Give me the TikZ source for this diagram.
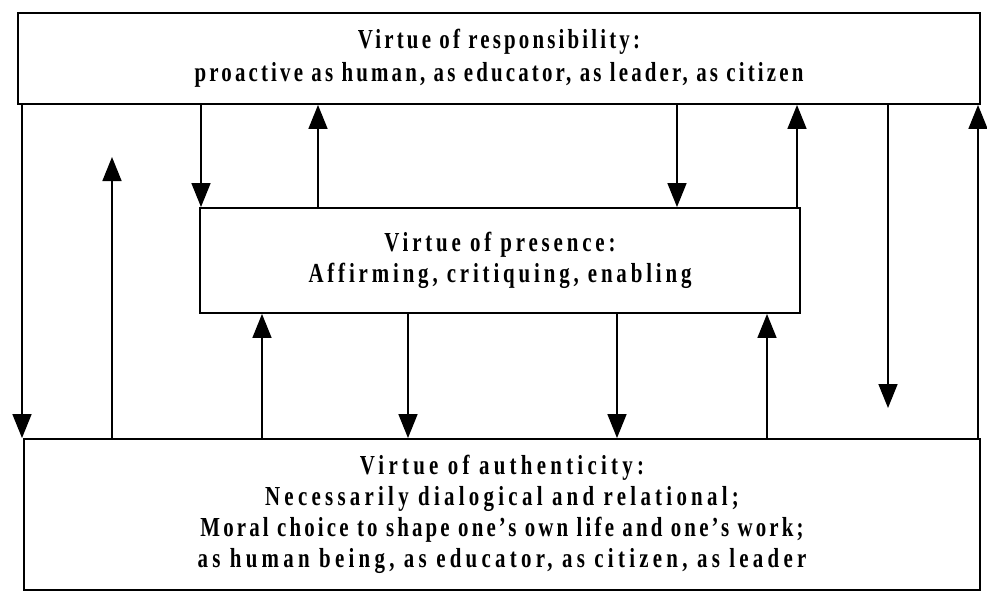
\documentclass[tikz,border=0pt]{standalone}
\usepackage{fontspec}
\setmainfont{Liberation Serif}[FakeStretch=0.76,LetterSpace=11.5]
\usetikzlibrary{arrows.meta}
\begin{document}
\begin{tikzpicture}[x=1pt,y=-1pt,
  boxstyle/.style={draw, line width=1.9pt, rectangle, inner sep=0pt, align=center,
    font=\bfseries\fontsize{27.5}{33}\selectfont},
  arr/.style={line width=1.6pt, -{Triangle[width=19pt,length=24pt]}}]
\useasboundingbox (0,0) rectangle (987,592);
\fill[white] (0,0) rectangle (987,592);
% boxes
\node[boxstyle, minimum width=962pt, minimum height=91pt] (top) at (499,58.5)
  {Virtue of responsibility:\\proactive as human, as educator, as leader, as citizen};
\node[boxstyle, minimum width=600pt, minimum height=105pt,
  font=\bfseries\fontsize{27.5}{31}\selectfont\addfontfeatures{LetterSpace=14}] (mid) at (500,260.5)
  {Virtue of presence:\\Affirming, critiquing, enabling};
\node[boxstyle, minimum width=956pt, minimum height=151pt,
  font=\bfseries\fontsize{27.5}{31}\selectfont\addfontfeatures{LetterSpace=15.5}] (bot) at (502,514.5)
  {Virtue of authenticity:\\Necessarily dialogical and relational;\\{\addfontfeatures{LetterSpace=11.5}Moral choice to shape one's own life and one's work;}\\as human being, as educator, as citizen, as leader};
% x positions of connectors
\coordinate (xa) at (22,0);
\coordinate (xb) at (112,0);
\coordinate (xc) at (201,0);
\coordinate (xd) at (318,0);
\coordinate (xe) at (677,0);
\coordinate (xf) at (797,0);
\coordinate (xg) at (888,0);
\coordinate (xh) at (978,0);
\coordinate (xi) at (262,0);
\coordinate (xj) at (408,0);
\coordinate (xk) at (617,0);
\coordinate (xl) at (767,0);
% free ends
\coordinate (endb) at (112,157);
\coordinate (endg) at (888,408);
% connectors between top and bottom
\draw[arr] (top.south -| xa) -- (bot.north -| xa);
\draw[arr] (bot.north -| xb) -- (endb);
\draw[arr] (top.south -| xg) -- (endg);
\draw[arr] (bot.north -| xh) -- (top.south -| xh);
% connectors between top and middle
\draw[arr] (top.south -| xc) -- (mid.north -| xc);
\draw[arr] (mid.north -| xd) -- (top.south -| xd);
\draw[arr] (top.south -| xe) -- (mid.north -| xe);
\draw[arr] (mid.north -| xf) -- (top.south -| xf);
% connectors between middle and bottom
\draw[arr] (bot.north -| xi) -- (mid.south -| xi);
\draw[arr] (mid.south -| xj) -- (bot.north -| xj);
\draw[arr] (mid.south -| xk) -- (bot.north -| xk);
\draw[arr] (bot.north -| xl) -- (mid.south -| xl);
\end{tikzpicture}
\end{document}
